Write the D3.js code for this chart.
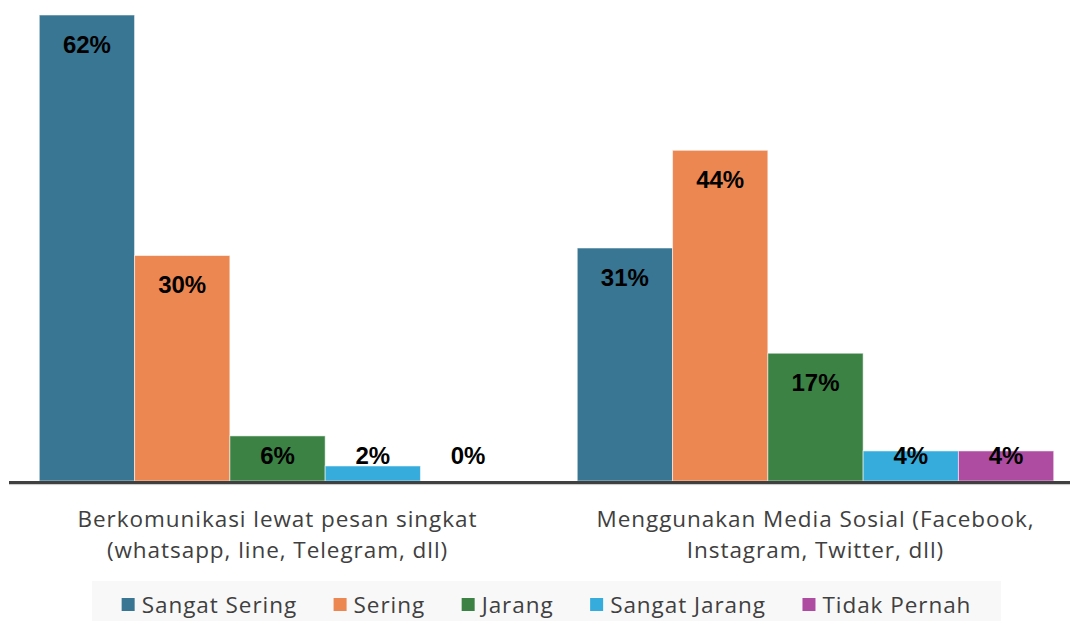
<!DOCTYPE html>
<html>
<head>
<meta charset="utf-8">
<script src="https://cdn.jsdelivr.net/npm/d3@7"></script>
<style>
  html, body { margin: 0; padding: 0; background: #ffffff; }
  svg { display: block; }
</style>
</head>
<body>
<svg id="chart" width="1070" height="621"></svg>
<script>
// Activity categories (each label split into its two display lines)
const categories = [
  ["Berkomunikasi lewat pesan singkat", "(whatsapp, line, Telegram, dll)"],
  ["Menggunakan Media Sosial (Facebook,", "Instagram, Twitter, dll)"]
];
const seriesNames = ["Sangat Sering", "Sering", "Jarang", "Sangat Jarang", "Tidak Pernah"];
const seriesColors = ["#387693", "#ec8752", "#3c8245", "#35acdc", "#ae4ca2"];

// Percentage of respondents per series, one value per category
const sangatSering = [62, 31];
const sering       = [30, 44];
const jarang       = [6, 17];
const sangatJarang = [2, 4];
const tidakPernah  = [0, 4];
const seriesValues = [sangatSering, sering, jarang, sangatJarang, tidakPernah];

const svg = d3.select("#chart");
const W = 1070, H = 621;
const baseY = 481;
const textFont = "'Open Sans', 'Noto Sans', sans-serif";
const textColor = "#404040";
const textSize = 22.5;
const textSpacing = 0.95;

const x0 = d3.scaleBand()
  .domain(d3.range(categories.length))
  .range([8.5, 1084.5])
  .paddingInner(0.1143)
  .paddingOuter(0.0572);

const x1 = d3.scaleBand()
  .domain(d3.range(seriesNames.length))
  .range([0, x0.bandwidth()]);

const y = d3.scaleLinear().domain([0, 62]).range([baseY, 15]);

// Bars
const groups = svg.append("g").selectAll("g")
  .data(categories)
  .join("g")
  .attr("transform", (d, i) => `translate(${x0(i)},0)`);

groups.each(function(cat, ci) {
  const g = d3.select(this);
  const rows = seriesValues.map((vals, si) => ({ si, v: vals[ci] }));
  g.selectAll("rect")
    .data(rows)
    .join("rect")
    .attr("x", d => x1(d.si))
    .attr("width", x1.bandwidth())
    .attr("y", d => y(d.v))
    .attr("height", d => baseY - y(d.v))
    .attr("fill", d => seriesColors[d.si])
    .attr("stroke", "#ffffff")
    .attr("stroke-opacity", d => d.v > 0 ? 0.55 : 0)
    .attr("stroke-width", 1);

  g.selectAll("text")
    .data(rows)
    .join("text")
    .attr("x", d => x1(d.si) + x1.bandwidth() / 2)
    .attr("y", d => Math.min(y(d.v) + 29, baseY - 26))
    .attr("text-anchor", "middle")
    .attr("dominant-baseline", "central")
    .attr("font-family", "'Liberation Sans', Arial, sans-serif")
    .attr("font-weight", "bold")
    .attr("font-size", 24)
    .attr("fill", "#000000")
    .text(d => d.v + "%");
});

// Category axis line
svg.append("line")
  .attr("x1", 9).attr("x2", W)
  .attr("y1", baseY + 1.5).attr("y2", baseY + 1.5)
  .attr("stroke", "#404040").attr("stroke-width", 3.2);
svg.append("line")
  .attr("x1", 9).attr("x2", W)
  .attr("y1", baseY + 3.6).attr("y2", baseY + 3.6)
  .attr("stroke", "#c8c8c8").attr("stroke-width", 1);

// Category labels
categories.forEach((lines, ci) => {
  const cx = x0(ci) + x0.bandwidth() / 2;
  lines.forEach((ln, li) => {
    svg.append("text")
      .attr("x", cx)
      .attr("y", 518 + li * 31)
      .attr("text-anchor", "middle")
      .attr("dominant-baseline", "central")
      .attr("font-family", textFont)
      .attr("font-size", textSize)
      .attr("letter-spacing", textSpacing)
      .attr("fill", textColor)
      .text(ln);
  });
});

// Legend
const legendBox = { x: 92, y: 581, w: 909, h: 40 };
svg.append("rect")
  .attr("x", legendBox.x).attr("y", legendBox.y)
  .attr("width", legendBox.w).attr("height", legendBox.h)
  .attr("fill", "#f8f8f8");

const legend = svg.append("g");
const items = legend.selectAll("g")
  .data(seriesNames)
  .join("g");
items.append("rect")
  .attr("width", 13).attr("height", 13)
  .attr("y", -6.5)
  .attr("fill", (d, i) => seriesColors[i]);
items.append("text")
  .attr("x", 20)
  .attr("dominant-baseline", "central")
  .attr("font-family", textFont)
  .attr("font-size", textSize)
  .attr("letter-spacing", textSpacing)
  .attr("fill", textColor)
  .text(d => d);

const itemGap = 36.5;
let cursor = 0;
const offsets = [];
items.each(function() {
  offsets.push(cursor);
  const w = this.querySelector("text").getComputedTextLength() + 20;
  cursor += w + itemGap;
});
const totalW = cursor - itemGap;
const startX = legendBox.x + (legendBox.w - totalW) / 2;
items.attr("transform", (d, i) => `translate(${startX + offsets[i]},${604.5})`);
</script>
</body>
</html>
